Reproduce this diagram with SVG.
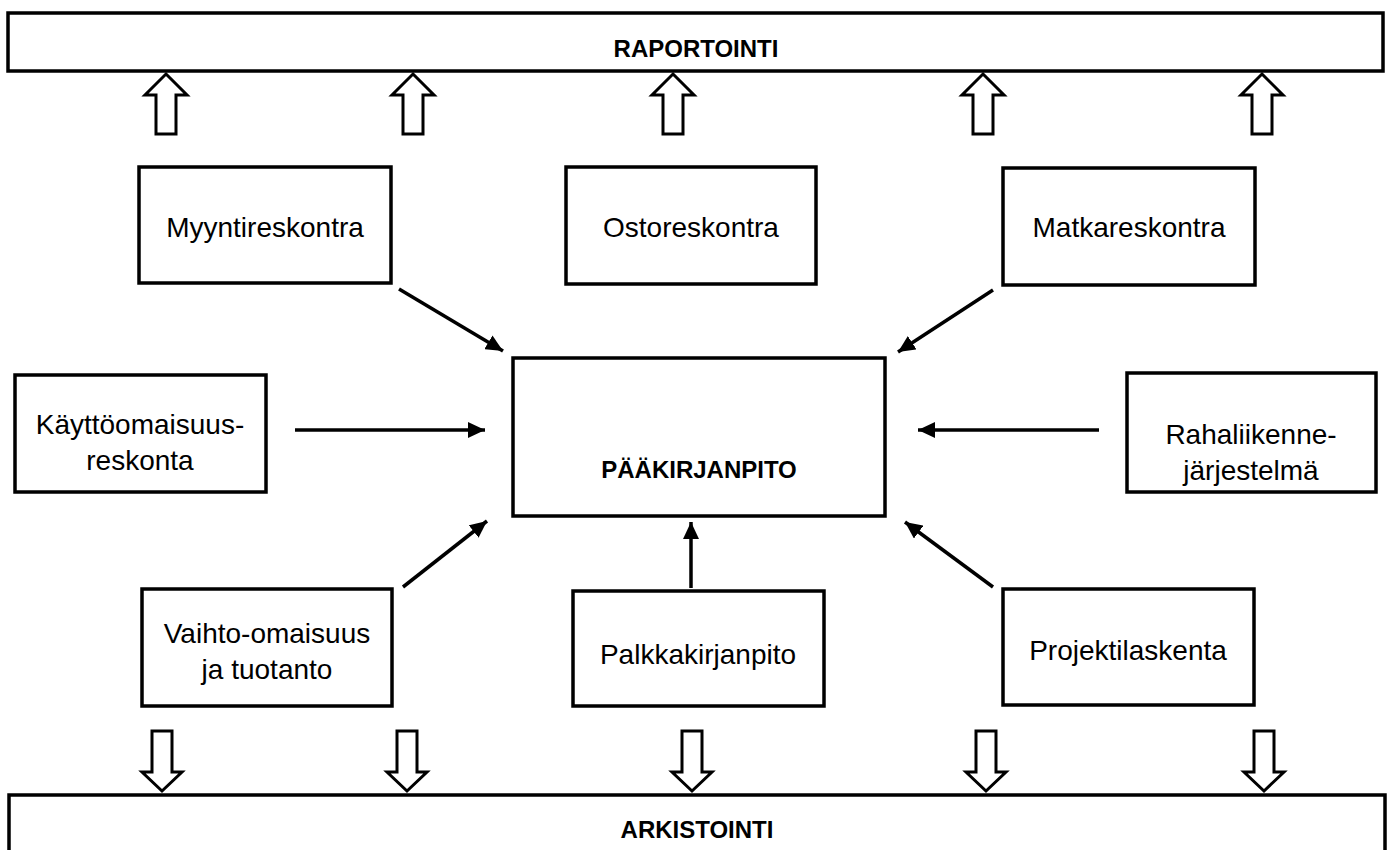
<svg xmlns="http://www.w3.org/2000/svg" xmlns:xlink="http://www.w3.org/1999/xlink" width="1390" height="850" viewBox="0 0 1390 850">
  <style>
    .box { fill: #ffffff; stroke: #000000; stroke-width: 3.5; }
    .bar { fill: #ffffff; stroke: #000000; stroke-width: 3.5; }
    .lbl { font-family: "Liberation Sans", Arial, sans-serif; font-size: 28px; fill: #000000; text-anchor: middle; }
    .bold { font-family: "Liberation Sans", Arial, sans-serif; font-size: 24px; font-weight: bold; fill: #000000; text-anchor: middle; }
    .flow { fill: #ffffff; stroke: #000000; stroke-width: 3; stroke-linejoin: miter; }
    .conn { fill: none; stroke: #000000; stroke-width: 3.5; marker-end: url(#head); }
  </style>
  <defs>
    <marker id="head" markerUnits="userSpaceOnUse" markerWidth="18" markerHeight="16" refX="17" refY="8" orient="auto">
      <path d="M0,0 L17,8 L0,16 Z" fill="#000000"/>
    </marker>
    <!-- hollow block arrows -->
    <path id="upArrow" class="flow" d="M0,0 L21,21 L10,21 L10,60 L-10,60 L-10,21 L-21,21 Z"/>
    <path id="downArrow" class="flow" d="M-10,0 L10,0 L10,41 L20,41 L0,60 L-20,41 L-10,41 Z"/>
  </defs>

  <rect width="1390" height="850" fill="#ffffff"/>

  <!-- reporting bar -->
  <g id="raportointi">
    <rect class="bar" x="8" y="13" width="1375" height="58"/>
    <text class="bold" x="696" y="57">RAPORTOINTI</text>
  </g>

  <!-- archive bar (runs past the bottom edge) -->
  <g id="arkistointi">
    <rect class="bar" x="9" y="795" width="1376" height="80"/>
    <text class="bold" x="697" y="838">ARKISTOINTI</text>
  </g>

  <!-- flows to reporting and archive -->
  <g id="flows">
    <use xlink:href="#upArrow" transform="translate(166,74)"/>
    <use xlink:href="#upArrow" transform="translate(413,74)"/>
    <use xlink:href="#upArrow" transform="translate(673,74)"/>
    <use xlink:href="#upArrow" transform="translate(983,74)"/>
    <use xlink:href="#upArrow" transform="translate(1262,74)"/>
    <use xlink:href="#downArrow" transform="translate(162,731)"/>
    <use xlink:href="#downArrow" transform="translate(407,731)"/>
    <use xlink:href="#downArrow" transform="translate(692,731)"/>
    <use xlink:href="#downArrow" transform="translate(986,731)"/>
    <use xlink:href="#downArrow" transform="translate(1264,731)"/>
  </g>

  <g id="myyntireskontra">
    <rect class="box" x="139" y="167" width="252" height="116"/>
    <text class="lbl" x="265" y="237">Myyntireskontra</text>
  </g>

  <g id="ostoreskontra">
    <rect class="box" x="566" y="167" width="250" height="117"/>
    <text class="lbl" x="691" y="237">Ostoreskontra</text>
  </g>

  <g id="matkareskontra">
    <rect class="box" x="1003" y="168" width="252" height="117"/>
    <text class="lbl" x="1129" y="237">Matkareskontra</text>
  </g>

  <g id="kayttoomaisuus">
    <rect class="box" x="15" y="375" width="251" height="117"/>
    <text class="lbl" x="140" y="434">Käyttöomaisuus-</text>
    <text class="lbl" x="140" y="470">reskonta</text>
  </g>

  <g id="paakirjanpito">
    <rect class="box" x="513" y="358" width="372" height="158"/>
    <text class="bold" x="699" y="478">PÄÄKIRJANPITO</text>
  </g>

  <g id="rahaliikenne">
    <rect class="box" x="1127" y="373" width="249" height="119"/>
    <text class="lbl" x="1251" y="444">Rahaliikenne-</text>
    <text class="lbl" x="1251" y="480">järjestelmä</text>
  </g>

  <g id="vaihto-omaisuus">
    <rect class="box" x="142" y="589" width="250" height="117"/>
    <text class="lbl" x="267" y="643">Vaihto-omaisuus</text>
    <text class="lbl" x="267" y="679">ja tuotanto</text>
  </g>

  <g id="palkkakirjanpito">
    <rect class="box" x="573" y="591" width="251" height="115"/>
    <text class="lbl" x="698" y="664">Palkkakirjanpito</text>
  </g>

  <g id="projektilaskenta">
    <rect class="box" x="1003" y="589" width="251" height="116"/>
    <text class="lbl" x="1128" y="660">Projektilaskenta</text>
  </g>

  <!-- postings into the general ledger -->
  <g id="connectors">
    <line class="conn" x1="399" y1="289" x2="503" y2="351"/>
    <line class="conn" x1="993" y1="290" x2="898" y2="352"/>
    <line class="conn" x1="295" y1="430" x2="485" y2="430"/>
    <line class="conn" x1="1099" y1="430" x2="918" y2="430"/>
    <line class="conn" x1="403" y1="587" x2="487" y2="521"/>
    <line class="conn" x1="691" y1="588" x2="691" y2="522"/>
    <line class="conn" x1="993" y1="587" x2="905" y2="522"/>
  </g>
</svg>
